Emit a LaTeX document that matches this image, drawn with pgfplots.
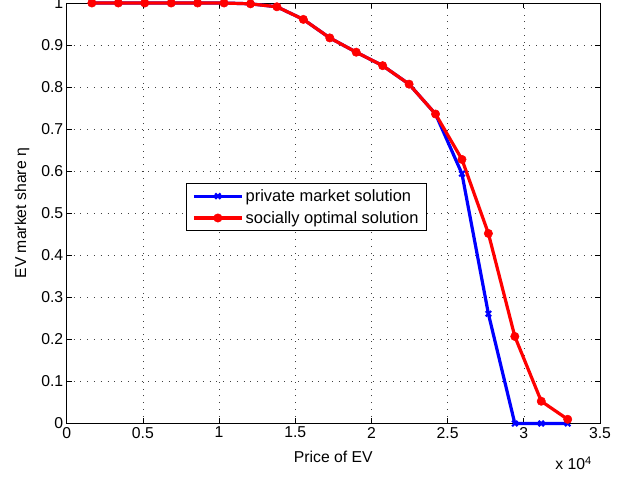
\documentclass[border=0pt]{standalone}
\usepackage{fontspec}
\setmainfont{Liberation Sans}
\usepackage{pgfplots}
\pgfplotsset{compat=1.18}

\newcommand{\figfont}{\fontsize{15.8}{18.5}\selectfont}
\newcommand{\legfont}{\fontsize{16.5}{19}\selectfont}

\begin{document}
\begin{tikzpicture}
\begin{axis}[
    name=ax,
    scale only axis,
    width=533bp,
    height=420.3bp,
    xmin=0, xmax=35000,
    ymin=0, ymax=1,
    xtick={0,5000,10000,15000,20000,25000,30000,35000},
    xticklabels={0,0.5,1,1.5,2,2.5,3,3.5},
    scaled x ticks=false,
    ytick={0,0.1,0.2,0.3,0.4,0.5,0.6,0.7,0.8,0.9,1},
    yticklabels={0,0.1,0.2,0.3,0.4,0.5,0.6,0.7,0.8,0.9,1},
    /pgf/number format/assume math mode=true,
    tick align=inside,
    major tick length=5bp,
    tick style={black, line width=0.8bp},
    axis line style={black, line width=0.9bp},
    grid=major,
    major grid style={black!75, line width=0.6bp, dash pattern=on 0.8bp off 6bp},
    tick label style={font=\figfont},
    xlabel={Price of EV},
    ylabel={EV market share η},
    label style={font=\figfont},
    xlabel style={yshift=-6bp},
    ylabel style={yshift=5bp},
    legend cell align=left,
    legend style={
        at={(rel axis cs:0.2233,0.5724)}, anchor=north west,
        draw=black, line width=0.9bp, fill=white,
        font=\legfont,
        inner xsep=6bp, inner ysep=4bp,
        row sep=4bp,
        nodes={inner sep=2.2bp},
    },
    legend image code/.code={
        \draw[mark repeat=2, mark phase=2]
            plot coordinates {(0bp,0bp) (24bp,0bp) (48bp,0bp)};
    },
    clip=false,
]

\addplot[blue, line width=3.2bp, mark=x, mark size=3.8bp,
         mark options={line width=2.2bp}] coordinates {
    (1650, 1.000)
    (3385, 1.000)
    (5120, 1.000)
    (6855, 1.000)
    (8590, 1.000)
    (10325, 1.000)
    (12060, 0.998)
    (13795, 0.991)
    (15530, 0.961)
    (17265, 0.917)
    (19000, 0.883)
    (20735, 0.851)
    (22470, 0.807)
    (24205, 0.736)
    (25940, 0.594)
    (27675, 0.261)
    (29410, 0.000)
    (31145, 0.000)
    (32880, 0.000)
};
\addlegendentry{private market solution}

\addplot[red, line width=3.2bp, mark=*, mark size=4.2bp,
         mark options={line width=0.5bp, fill=red}] coordinates {
    (1650, 1.000)
    (3385, 1.000)
    (5120, 1.000)
    (6855, 1.000)
    (8590, 1.000)
    (10325, 1.000)
    (12060, 0.998)
    (13795, 0.991)
    (15530, 0.961)
    (17265, 0.917)
    (19000, 0.883)
    (20735, 0.851)
    (22470, 0.807)
    (24205, 0.736)
    (25940, 0.628)
    (27675, 0.452)
    (29410, 0.207)
    (31145, 0.053)
    (32880, 0.010)
};
\addlegendentry{socially optimal solution}

\node[anchor=north east, inner sep=0pt, font=\figfont]
    at ([shift={(-8bp,-33bp)}]rel axis cs:1,0) {x 10\textsuperscript{4}};
\end{axis}
\pgfresetboundingbox
\useasboundingbox ([shift={(-66.7bp,-56.7bp)}]ax.south west)
    rectangle ([shift={(30bp,3bp)}]ax.north east);
\end{tikzpicture}
\end{document}
